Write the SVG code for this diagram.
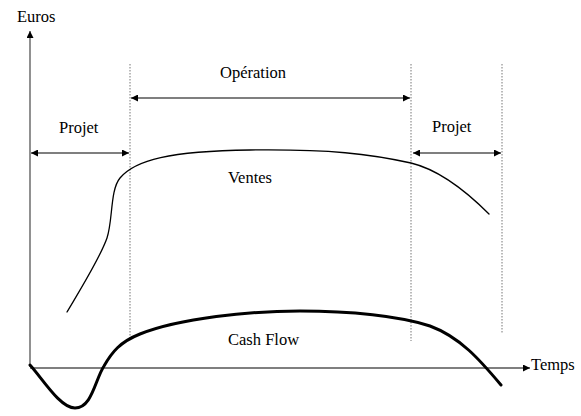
<svg xmlns="http://www.w3.org/2000/svg" width="581" height="416" viewBox="0 0 581 416">
<style>
text{font-family:"Liberation Serif","Times New Roman",serif;font-size:16.5px;fill:#000}
.axis{stroke:#555;stroke-width:1.3;fill:none}
.dot{stroke:#777;stroke-width:1;stroke-dasharray:1.5,1.5;fill:none}
.dim{stroke:#000;stroke-width:1.1;fill:none}
.curve{stroke:#000;fill:none;stroke-linecap:round}
</style>
<defs>
<marker id="ah" viewBox="0 0 10 10" refX="10" refY="5" markerWidth="9" markerHeight="7" markerUnits="userSpaceOnUse" orient="auto-start-reverse">
<path d="M0,0 L10,5 L0,10 z" fill="#000"/>
</marker>
</defs>
<rect width="581" height="416" fill="#fff"/>
<g id="axes">
<line class="axis" x1="30" y1="367" x2="30" y2="31" marker-end="url(#ah)"/>
<line class="axis" x1="30" y1="368" x2="530" y2="368" marker-end="url(#ah)"/>
<text x="17" y="22">Euros</text>
<text x="531" y="370">Temps</text>
</g>
<g id="phases">
<line class="dot" x1="130" y1="64" x2="130" y2="340"/>
<line class="dot" x1="411" y1="64" x2="411" y2="341"/>
<line class="dot" x1="502" y1="64" x2="502" y2="333"/>
</g>
<g id="connectors">
<line class="dim" x1="31" y1="153" x2="129" y2="153" marker-start="url(#ah)" marker-end="url(#ah)"/>
<line class="dim" x1="131" y1="98" x2="410" y2="98" marker-start="url(#ah)" marker-end="url(#ah)"/>
<line class="dim" x1="413" y1="153" x2="501" y2="153" marker-start="url(#ah)" marker-end="url(#ah)"/>
</g>
<g id="labels">
<text x="59" y="133">Projet</text>
<text x="220" y="78">Opération</text>
<text x="432" y="132">Projet</text>
</g>
<g id="ventes">
<path class="curve" stroke-width="1.3" d="M67,312 C80,290 100,258 107,238 C113,220 110,190 120,178 C135,160 170,151 250,150 C330,149 370,154 411,163 C440,170 470,195 489,214"/>
<text x="228" y="183">Ventes</text>
</g>
<g id="cashflow">
<path class="curve" stroke-width="3" d="M30,365 C42,378 60,408 75,408 C92,408 95,380 104,366 C112,352 120,342 140,334 C180,318 250,311 300,311 C350,311 400,316 430,326 C460,337 480,360 501,385"/>
<text x="228" y="345">Cash Flow</text>
</g>
</svg>
